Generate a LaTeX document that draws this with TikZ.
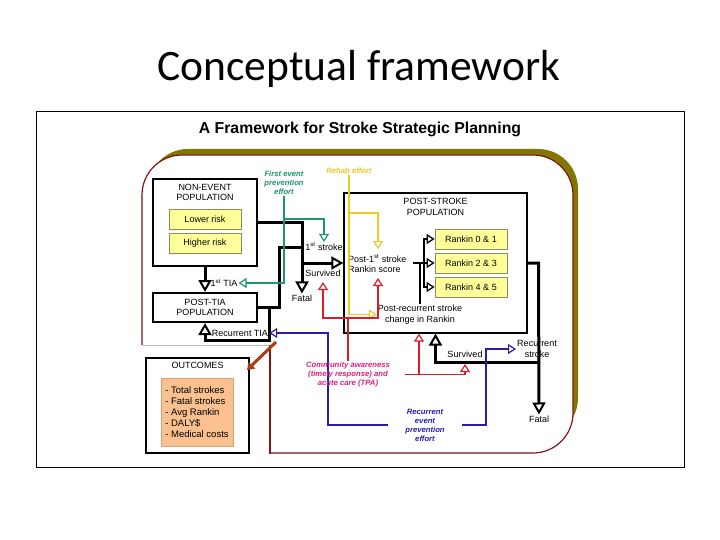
\documentclass[tikz,border=0pt]{standalone}
\usepackage{fontspec}
\setmainfont{Liberation Sans}
\newfontfamily\slidefont{Carlito}
\usetikzlibrary{arrows.meta,positioning,calc}

\definecolor{frameolive}{RGB}{128,120,0}
\definecolor{framered}{RGB}{130,20,20}
\definecolor{effgreen}{RGB}{30,150,115}
\definecolor{rehabyel}{RGB}{236,200,40}
\definecolor{carered}{RGB}{215,30,40}
\definecolor{caremag}{RGB}{225,30,130}
\definecolor{recblue}{RGB}{40,30,170}
\definecolor{rankfill}{RGB}{255,255,153}
\definecolor{rankline}{RGB}{140,140,90}
\definecolor{outfill}{RGB}{250,192,143}
\definecolor{arrowbrown}{RGB}{170,60,20}

\tikzset{
	lbl/.style={font=\fontsize{9}{10.5}\selectfont, inner sep=1pt},
	efflbl/.style={font=\bfseries\itshape\fontsize{7.7}{9}\selectfont, align=center, inner sep=1pt},
	popbox/.style={draw, line width=2pt, inner sep=0pt, align=center, font=\fontsize{9}{10.5}\selectfont},
	riskbox/.style={draw=rankline, fill=rankfill, line width=0.8pt, minimum width=72pt, minimum height=20pt, font=\fontsize{9}{10.5}\selectfont},
	blkline/.style={line width=3pt},
	blkarrow/.style={line width=3pt, -{Triangle[length=12pt,width=13pt,fill=white,line width=2pt]}},
	treeline/.style={line width=1.8pt},
	treearrow/.style={line width=1.6pt, -{Triangle[length=8pt,width=10pt,fill=white,line width=1.3pt]}},
	effline/.style={line width=1.3pt},
	effarrow/.style={line width=1.3pt, -{Triangle[length=8pt,width=10pt,fill=white,line width=1.2pt]}},
	outarrow/.style={draw=arrowbrown, line width=3pt, -{Triangle[length=7pt,width=9pt]}},
}

\begin{document}
\begin{tikzpicture}[x=1pt, y=-1pt]
	\useasboundingbox (0,0) rectangle (720,540);
	\fill[white] (0,0) rectangle (720,540);

	\node[font=\slidefont\fontsize{43.5}{50}\selectfont, inner sep=0pt] (slidetitle) at (359,69) {Conceptual framework};
	\draw[line width=0.8pt] (36,111) rectangle (684,467);
	\node[font=\bfseries\fontsize{15.8}{18}\selectfont] (plantitle) at (360,129) {A Framework for Stroke Strategic Planning};

	\fill[frameolive, rounded corners=40pt] (148,149) rectangle (578,438);
	\draw[framered, fill=white, line width=1.2pt, rounded corners=40pt] (142,155) rectangle (573,453);
	\fill[white] (141,345) rectangle (270,455);
	\draw[black!25] (142,345) -- (270,345);
	\draw[framered, line width=1.2pt] (270,345) -- (270,453.6);

		\node[popbox, minimum width=104pt, minimum height=87pt] (nonevent) at (205,222.5) {};
		\node[lbl, align=center, below=5pt of nonevent.north] (nonevtitle) {NON-EVENT\\POPULATION};
			\node[riskbox] (lowrisk) at (205,219) {Lower risk};
			\node[riskbox] (highrisk) at (205,243) {Higher risk};

		\node[popbox, minimum width=104pt, minimum height=29pt] (posttia) at (205,307.5) {POST-TIA\\POPULATION};

		\node[draw, line width=1.2pt, minimum width=183pt, minimum height=140pt] (poststroke) at (435.5,263) {};
		\node[lbl, align=center, below=5pt of poststroke.north] (psttitle) {POST-STROKE\\POPULATION};
			\node[riskbox] (rank01) at (471,239) {Rankin 0 \& 1};
			\node[riskbox] (rank23) at (471,263) {Rankin 2 \& 3};
			\node[riskbox] (rank45) at (471,287) {Rankin 4 \& 5};
			\node[lbl, align=left, anchor=west] (post1st) at (347,263.5) {Post-1\textsuperscript{st} stroke\\Rankin score};
			\node[lbl, align=center] (postrec) at (420,314.5) {Post-recurrent stroke\\change in Rankin};

		\node[popbox, minimum width=103pt, minimum height=95pt] (outcomes) at (197.5,405.5) {};
		\node[lbl, below=4pt of outcomes.north] (outtitle) {OUTCOMES};
		\node[fill=outfill, draw=outfill!85!black, line width=0.4pt, minimum width=72pt, minimum height=68pt, align=left, font=\fontsize{9.5}{11}\selectfont, inner sep=0pt] (outlist) at (197,412) {- Total strokes\\- Fatal strokes\\- Avg Rankin\\- DALY\$\\- Medical costs};

	\node[lbl] (tia1) at (224,283) {1\textsuperscript{st} TIA};
	\node[lbl] (stroke1) at (324,247) {1\textsuperscript{st} stroke};
	\node[lbl] (survived1) at (323,273) {Survived};
	\node[lbl] (fatal1) at (302,298) {Fatal};
	\node[lbl] (tiarec) at (240,333) {Recurrent TIA};
	\node[lbl, align=center] (recstroke) at (537,349) {Recurrent\\stroke};
	\node[lbl] (survived2) at (465,354) {Survived};
	\node[lbl] (fatal2) at (539,419) {Fatal};

	\node[efflbl, text=effgreen] (firstprev) at (284,183) {First event\\prevention\\effort};
	\node[efflbl, text=rehabyel] (rehab) at (349,171) {Rehab effort};
	\node[efflbl, text=recblue, minimum width=74pt] (recprev) at (425,425) {Recurrent\\event\\prevention\\effort};

	\coordinate (strokeTop) at (302,222.5);
	\coordinate (strokeMid) at (302,263);
	\coordinate (tiaBendA) at (279,307.5);
	\coordinate (tiaBendB) at (279,247);
	\coordinate (tiaLoopA) at (269,307.5);
	\coordinate (tiaLoopB) at (269,340);
	\coordinate (tiaLoopC) at (205,340);
	\draw[blkarrow] (nonevent.south) -- (posttia.north);
	\draw[blkarrow] (nonevent.east) -- (strokeTop) -- (fatal1.north);
	\draw[blkline] (posttia.east) -- (tiaBendA) -- (tiaBendB) -- (tiaBendB -| strokeTop);
	\draw[blkarrow] (strokeMid) -- (poststroke.west);
	\draw[blkarrow] (tiaLoopA) -- (tiaLoopB) -- (tiaLoopC) -- (posttia.south);

	\coordinate (rsTop) at (538.5,263);
	\coordinate (rsMid) at (538.5,362);
	\draw[blkarrow] (poststroke.east) -- (rsTop) -- (fatal2.north);
	\draw[blkarrow] (rsMid) -- (rsMid -| poststroke.south) -- (poststroke.south);

	\coordinate (rkIn) at (413,263);
	\coordinate (rkFork) at (424,263);
	\draw[treeline] (rkIn) -- (rkFork);
	\draw[treeline] (postrec.north) -- (postrec.north |- rkIn);
	\draw[treearrow] (rkFork) -- (rkFork |- rank01.west) -- (rank01.west);
	\draw[treearrow] (rkFork) -- (rank23.west);
	\draw[treearrow] (rkFork) -- (rkFork |- rank45.west) -- (rank45.west);

	\coordinate (grBranch) at (284,219);
	\coordinate (grLow) at (284,283);
	\draw[effarrow, effgreen] (firstprev.south) -- (grLow) -- (tia1.east);
	\draw[effarrow, effgreen] (grBranch) -| (stroke1.north);

	\coordinate (yBranch) at (349,213);
	\coordinate (yTip) at (378,249);
	\draw[effarrow, rehabyel] (rehab.south) |- (postrec.west);
	\draw[effarrow, rehabyel] (yBranch) -| (yTip);

	\coordinate (blLeft) at (328,425);
	\coordinate (blRight) at (486,425);
	\draw[effarrow, recblue] (recprev.west) -- (blLeft) |- (tiarec.east);
	\draw[effarrow, recblue] (recprev.east) -- (blRight) |- (recstroke.west);

	\node[efflbl, text=caremag, minimum width=114pt] (community) at (348,374.5) {Community awareness\\(timely response) and\\acute care (TPA)};

	\coordinate (crSplit) at (348,318);
	\coordinate (crTipA) at (323,282);
	\coordinate (crTipB) at (378,278);
	\coordinate (crRight) at (419,374.5);
	\coordinate (crEnd) at (465,374.5);
	\coordinate (crEndTip) at (465,364);
	\draw[effline, carered] (community.north) -- (crSplit);
	\draw[effarrow, carered] (crSplit) -| (crTipA);
	\draw[effarrow, carered] (crSplit) -| (crTipB);
	\draw[effarrow, carered] (community.east) -- (crEnd) -- (crEndTip);
	\draw[effarrow, carered] (crRight) -- (crRight |- poststroke.south);

	\coordinate (outFrom) at (276,342);
	\draw[outarrow] (outFrom) -- ([xshift=-3pt,yshift=-13pt]outcomes.north east);
\end{tikzpicture}
\end{document}
